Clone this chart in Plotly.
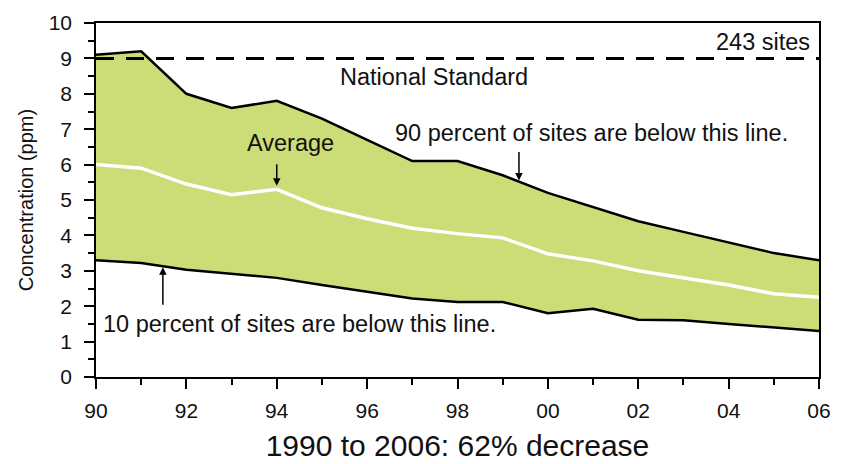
import plotly.graph_objects as go

# Dados de concentração (ppm) por ano
years = list(range(1990, 2007))
pct90 = [9.1, 9.2, 8.0, 7.6, 7.8, 7.3, 6.7, 6.1, 6.1, 5.7, 5.2, 4.8, 4.4, 4.1, 3.8, 3.5, 3.3]
average = [6.0, 5.9, 5.45, 5.15, 5.3, 4.78, 4.47, 4.2, 4.05, 3.93, 3.48, 3.28, 3.0, 2.8, 2.6, 2.35, 2.25]
pct10 = [3.3, 3.22, 3.03, 2.92, 2.8, 2.6, 2.4, 2.22, 2.12, 2.12, 1.8, 1.93, 1.62, 1.6, 1.5, 1.4, 1.3]
standard = 9.0

x_ticks = [1990, 1992, 1994, 1996, 1998, 2000, 2002, 2004, 2006]
x_labels = ["90", "92", "94", "96", "98", "00", "02", "04", "06"]

FONT = "Liberation Sans, Arial, sans-serif"
GREEN = "#CCDC77"

fig = go.Figure()

# faixa entre 10 e 90 percentil
fig.add_trace(go.Scatter(x=years, y=pct10, mode="lines",
                         line=dict(color="black", width=2.5), showlegend=False))
fig.add_trace(go.Scatter(x=years, y=pct90, mode="lines", fill="tonexty",
                         fillcolor=GREEN, line=dict(color="black", width=2.5),
                         showlegend=False))
fig.add_trace(go.Scatter(x=years, y=average, mode="lines",
                         line=dict(color="white", width=3.5), showlegend=False))
fig.add_trace(go.Scatter(x=[1990, 2006], y=[standard, standard], mode="lines",
                         line=dict(color="black", width=3, dash="18px,12px"),
                         showlegend=False))

txt = dict(family=FONT, size=23.5, color="#111")
annotations = [
    dict(x=2005.85, y=9.47, text="243 sites", showarrow=False, xanchor="right", font=txt),
    dict(x=1997.48, y=8.47, text="National Standard", showarrow=False, font=txt),
    dict(x=1994.3, y=6.6, text="Average", showarrow=False, font=txt),
    dict(x=2000.97, y=6.88, text="90 percent of sites are below this line.", showarrow=False, font=txt),
    dict(x=1994.5, y=1.5, text="10 percent of sites are below this line.", showarrow=False, font=txt),
    # flechas
    dict(x=1994.0, y=5.4, ax=1994.0, ay=6.05, axref="x", ayref="y", text="",
         showarrow=True, arrowhead=2, arrowsize=1, arrowwidth=1.5, arrowcolor="black"),
    dict(x=1999.36, y=5.55, ax=1999.36, ay=6.4, axref="x", ayref="y", text="",
         showarrow=True, arrowhead=2, arrowsize=1, arrowwidth=1.5, arrowcolor="black"),
    dict(x=1991.48, y=3.1, ax=1991.48, ay=2.0, axref="x", ayref="y", text="",
         showarrow=True, arrowhead=2, arrowsize=1, arrowwidth=1.5, arrowcolor="black"),
]

fig.update_layout(
    width=846, height=464,
    margin=dict(l=88, r=35, t=15, b=95),
    plot_bgcolor="white", paper_bgcolor="white",
    font=dict(family=FONT, size=20, color="#111"),
    annotations=annotations,
    xaxis=dict(
        range=[1990, 2006], tickvals=x_ticks, ticktext=x_labels,
        ticks="outside", ticklen=10, tickwidth=1.5, tickcolor="black",
        minor=dict(dtick=1, tick0=1990, ticks="outside", ticklen=6, tickwidth=1.5, tickcolor="black"),
        showline=True, linecolor="black", linewidth=1.5, mirror=True,
        showgrid=False, zeroline=False, automargin=False,
        title=dict(text="1990 to 2006: 62% decrease", font=dict(size=30), standoff=14),
        tickfont=dict(size=21), ticklabelstandoff=4,
    ),
    yaxis=dict(
        range=[0, 10], dtick=1, tick0=0,
        ticks="outside", ticklen=10, tickwidth=1.5, tickcolor="black",
        minor=dict(dtick=0.5, tick0=0, ticks="outside", ticklen=6, tickwidth=1.5, tickcolor="black"),
        showline=True, linecolor="black", linewidth=1.5, mirror=True,
        showgrid=False, zeroline=False, automargin=False,
        title=dict(text="Concentration (ppm)", font=dict(size=20), standoff=10),
        tickfont=dict(size=21), ticklabelstandoff=8,
    ),
)

fig.write_html("out.html")
